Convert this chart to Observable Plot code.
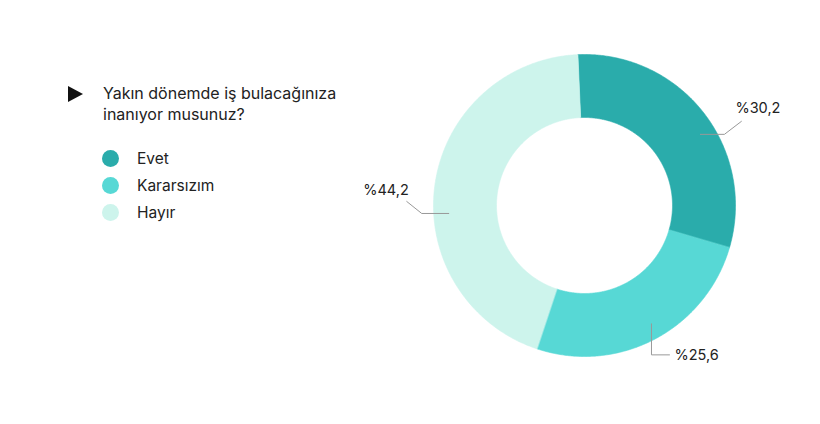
<!DOCTYPE html>
<html><head><meta charset="utf-8">
<script src="https://cdn.jsdelivr.net/npm/d3@7"></script>
<script src="https://cdn.jsdelivr.net/npm/@observablehq/plot@0.6"></script>
<style>
html,body{margin:0;padding:0;background:#fff;}
#wrap{position:relative;width:820px;height:424px;font-family:Inter,"Noto Sans",sans-serif;color:#222;}
#title{position:absolute;left:68px;top:83px;font-size:16px;line-height:21px;}
#title .tri{position:absolute;left:0;top:3px;width:0;height:0;border-left:15px solid #111;border-top:8px solid transparent;border-bottom:8px solid transparent;}
#title .txt{position:absolute;left:35px;top:0;white-space:nowrap;}
#legend{position:absolute;left:102px;top:145px;font-size:15.5px;}
.item{display:flex;align-items:center;height:27px;}
.sw{width:17px;height:17px;border-radius:50%;margin-right:18px;}
#chart{position:absolute;left:0;top:0;}
</style></head>
<body><div id="wrap"><div id="chart"></div><div id="title"><div class="tri"></div><div class="txt" id="qtxt"></div></div><div id="legend"></div></div>
<script>
const questionLines = ["Yakın dönemde iş bulacağınıza", "inanıyor musunuz?"];
const categories = ["Evet", "Kararsızım", "Hayır"];
const values = [30.2, 25.6, 44.2];
const valueLabels = ["%30,2", "%25,6", "%44,2"];
const colors = ["#2aacab", "#57d8d5", "#cdf4ec"];

// layout (not data)
const R = 151, innerR = 88;
const startDeg = -2.5;
const labelAngleNudge = [6.6, -1.8, -11.3];  // degrees added to slice mid-angle for leader start
const leaderStartR = 136;
const leaderPaths = [ // pixel deltas after start point (dx, dy with y down)
  [[24, 0], [17, -13]],
  [[0, 31], [18, 0]],
  [[-27, 0], [-15, -12]]
];
const labelOffsets = [[-6, -13, "start"], [5, 0, "start"], [2, -11, "end"]];

document.getElementById("qtxt").innerHTML = questionLines.join("<br>");
const leg = document.getElementById("legend");
categories.forEach((c, i) => {
  const d = document.createElement("div"); d.className = "item";
  d.innerHTML = `<div class="sw" style="background:${colors[i]}"></div><span>${c}</span>`;
  leg.appendChild(d);
});

const total = d3.sum(values);
const rad = d => d * Math.PI / 180;
let acc = startDeg;
const slices = values.map((v, i) => {
  const a0 = acc, a1 = acc + v / total * 360; acc = a1;
  return {cat: categories[i], a0, a1, mid: (a0 + a1) / 2, label: valueLabels[i]};
});
const u = 1 / R; // pixel -> unit
const pts = [];
for (const s of slices) {
  const n = Math.max(8, Math.ceil((s.a1 - s.a0) * 2));
  for (let k = 0; k <= n; k++) { const a = rad(s.a0 + (s.a1 - s.a0) * k / n); pts.push({cat: s.cat, x: Math.sin(a), y: Math.cos(a)}); }
  for (let k = n; k >= 0; k--) { const a = rad(s.a0 + (s.a1 - s.a0) * k / n); pts.push({cat: s.cat, x: innerR * u * Math.sin(a), y: innerR * u * Math.cos(a)}); }
}
const leaders = [], texts = [];
slices.forEach((s, i) => {
  const a = rad(s.mid + labelAngleNudge[i]);
  let px = leaderStartR * Math.sin(a), py = -leaderStartR * Math.cos(a);
  leaders.push({id: i, x: px * u, y: -py * u});
  for (const [dx, dy] of leaderPaths[i]) { px += dx; py += dy; leaders.push({id: i, x: px * u, y: -py * u}); }
  const [ox, oy, anchor] = labelOffsets[i];
  texts.push({x: (px + ox) * u, y: -(py + oy) * u, label: s.label, anchor});
});

const cx = 584, cy = 205;
const plot = Plot.plot({
  width: 820, height: 424, margin: 0,
  x: {domain: [-1, 1], range: [cx - R, cx + R], axis: null},
  y: {domain: [-1, 1], range: [cy + R, cy - R], axis: null},
  color: {domain: categories, range: colors},
  style: {fontFamily: "Inter, 'Noto Sans', sans-serif", background: "white"},
  marks: [
    Plot.line(pts, {x: "x", y: "y", z: "cat", fill: "cat", stroke: "cat", strokeWidth: 0.6, curve: "linear-closed"}),
    Plot.line(leaders, {x: "x", y: "y", z: "id", stroke: "#999", strokeWidth: 1}),
    Plot.text(texts.filter(t => t.anchor === "start"), {x: "x", y: "y", text: "label", textAnchor: "start", fontSize: 14.5, fill: "#222"}),
    Plot.text(texts.filter(t => t.anchor === "end"), {x: "x", y: "y", text: "label", textAnchor: "end", fontSize: 14.5, fill: "#222"})
  ]
});
document.getElementById("chart").appendChild(plot);
</script></body></html>
